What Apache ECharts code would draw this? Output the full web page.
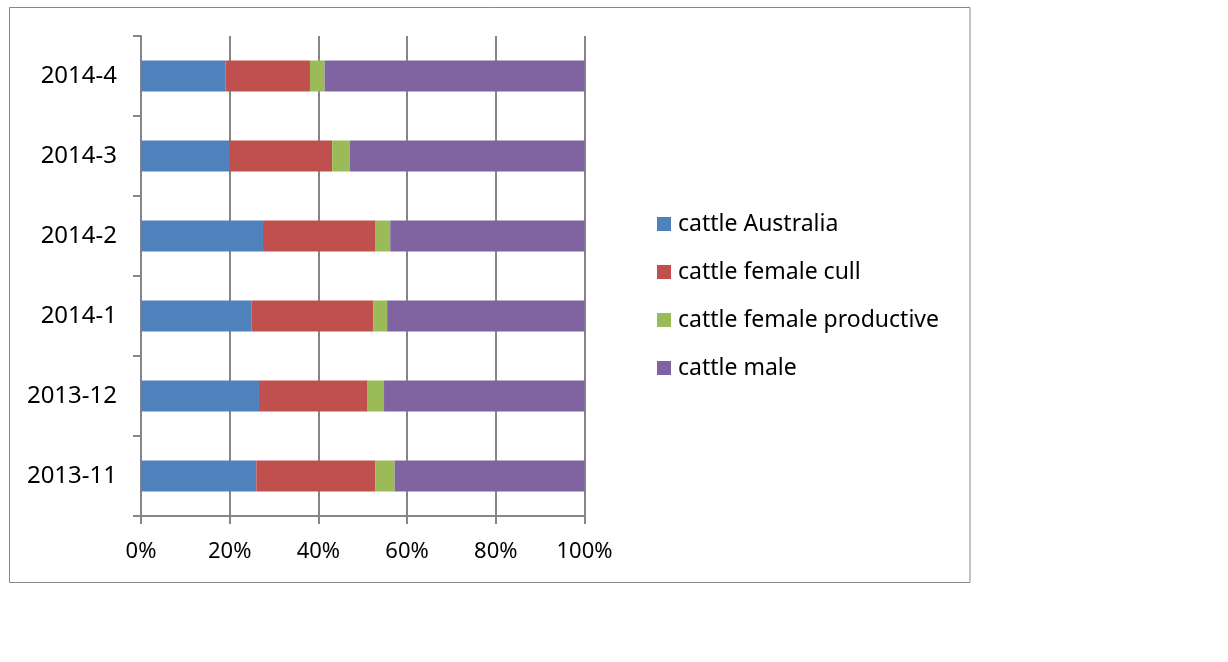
<!DOCTYPE html>
<html>
<head>
<meta charset="utf-8">
<title>cattle share by month</title>
<script src="https://cdn.jsdelivr.net/npm/echarts@6/dist/echarts.min.js"></script>
<style>
  html, body { margin: 0; padding: 0; background: #fff; }
  #chart { width: 1228px; height: 662px; }
</style>
</head>
<body>
<div id="chart"></div>
<script>
// months, bottom to top
const months = ['2013-11', '2013-12', '2014-1', '2014-2', '2014-3', '2014-4']

// shares in percent
const australia = [26.0, 26.6, 24.9, 27.5, 19.9, 19.1]
const femaleCull = [26.8, 24.5, 27.5, 25.4, 23.2, 19.0]
const femaleProductive = [4.4, 3.7, 3.1, 3.3, 4.0, 3.3]
const male = [42.8, 45.2, 44.5, 43.8, 52.9, 58.6]

const seriesNames = ['cattle Australia', 'cattle female cull', 'cattle female productive', 'cattle male']
const colors = ['#4F81BD', '#C0504D', '#9BBB59', '#8064A2']

const font = '"Noto Sans", sans-serif'
const axisGray = '#868686'

const chart = echarts.init(document.getElementById('chart'))

function bar(name, data, i) {
  return {
    name,
    type: 'bar',
    stack: 'total',
    barWidth: 31,
    itemStyle: { color: colors[i] },
    data,
  }
}

chart.setOption({
  animation: false,
  backgroundColor: '#fff',
  textStyle: { fontFamily: font },
  graphic: [
    {
      type: 'rect',
      shape: { x: 9.5, y: 7.5, width: 960.5, height: 575 },
      style: { fill: 'none', stroke: '#888', lineWidth: 1 },
      silent: true,
    },
  ],
  grid: { left: 141, right: 643.5, top: 36, bottom: 146 },
  legend: {
    orient: 'vertical',
    left: 652,
    top: 207,
    itemWidth: 14,
    itemHeight: 14,
    itemGap: 24,
    icon: 'rect',
    textStyle: { fontFamily: font, fontSize: 23, color: '#000', lineHeight: 24, padding: [0, 0, 0, 2] },
    data: seriesNames,
  },
  xAxis: {
    type: 'value',
    min: 0,
    max: 100,
    interval: 20,
    axisLine: { show: true, lineStyle: { color: axisGray, width: 2 } },
    axisTick: { show: true, length: 8, lineStyle: { color: axisGray, width: 2 } },
    splitLine: { show: true, lineStyle: { color: axisGray, width: 2 } },
    axisLabel: { formatter: '{value}%', color: '#000', fontSize: 22, fontFamily: font, margin: 25 },
  },
  yAxis: {
    type: 'category',
    data: months,
    axisLine: { show: true, lineStyle: { color: axisGray, width: 2 } },
    axisTick: { show: true, length: 8, lineStyle: { color: axisGray, width: 2 } },
    axisLabel: { color: '#000', fontSize: 24, fontFamily: font, margin: 24 },
  },
  series: [
    bar(seriesNames[0], australia, 0),
    bar(seriesNames[1], femaleCull, 1),
    bar(seriesNames[2], femaleProductive, 2),
    bar(seriesNames[3], male, 3),
  ],
})
</script>
</body>
</html>
